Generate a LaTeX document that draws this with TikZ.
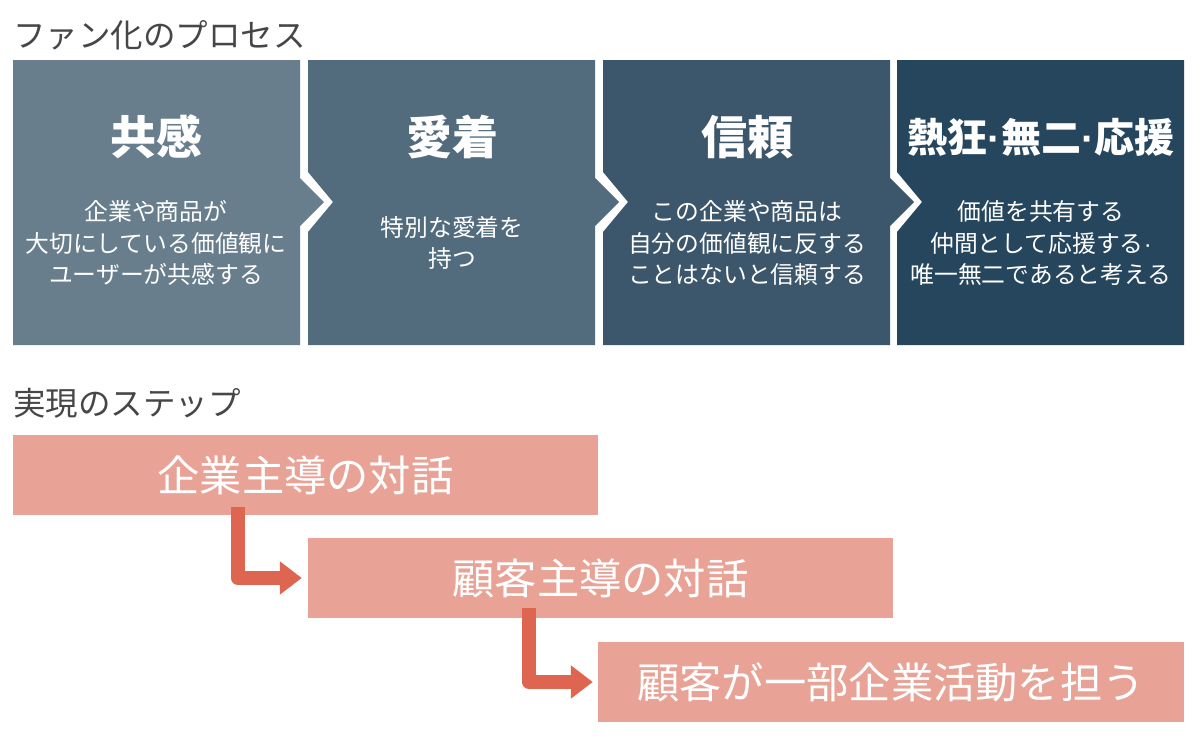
\documentclass[tikz,border=0pt]{standalone}
\usepackage{fontspec}
\newfontfamily\jp{Noto Sans CJK JP}
\newfontfamily\lat{Liberation Sans}
\usepackage{tikz}
\usetikzlibrary{positioning, arrows.meta, calc}
\definecolor{dankaiA}{HTML}{687E8D}
\definecolor{dankaiB}{HTML}{526C7E}
\definecolor{dankaiC}{HTML}{3C576C}
\definecolor{dankaiD}{HTML}{26465E}
\definecolor{momo}{HTML}{E8A396}
\definecolor{aka}{HTML}{DE6651}
\definecolor{hai}{HTML}{464646}
\newcommand{\nakaten}{{\lat\bfseries ·}}

\begin{document}
\begin{tikzpicture}[
    x=1pt, y=-1pt,
    midashi/.style={
        anchor=west, inner sep=0pt, text=hai,
        font=\jp\fontsize{32.5}{38}\selectfont
    },
    daimei/.style={
        inner sep=0pt, text=white,
        font=\jp\bfseries\fontsize{46}{52}\selectfont
    },
    setsumei/.style={
        inner sep=0pt, text=white, align=center,
        font=\jp\fontsize{23.8}{31.5}\selectfont
    },
    suteppu/.style={
        rectangle, fill=momo, text=white, inner sep=0pt,
        minimum width=585pt, minimum height=80pt,
        font=\jp\fontsize{42.3}{48}\selectfont
    },
    yajirushi/.style={
        draw=aka, line width=14pt, line join=round,
        -{Triangle[width=32pt, length=22pt]}
    }
]
\useasboundingbox (0,0) rectangle (1200,742);

% --- fan process
\node[midashi] (proc) at (13,35) {ファン化のプロセス};

\fill[dankaiA] (13,60) -- (300,60) -- (300,178) -- (324,202) -- (300,226)
    -- (300,345) -- (13,345) -- cycle;
\fill[dankaiB] (308,60) -- (595,60) -- (595,178) -- (619,202) -- (595,226)
    -- (595,345) -- (308,345) -- (308,232) -- (333,202) -- (308,172) -- cycle;
\fill[dankaiC] (603,60) -- (890,60) -- (890,178) -- (914,202) -- (890,226)
    -- (890,345) -- (603,345) -- (603,232) -- (628,202) -- (603,172) -- cycle;
\fill[dankaiD] (897,60) -- (1184,60) -- (1184,345) -- (897,345)
    -- (897,232) -- (922,202) -- (897,172) -- cycle;

\node[daimei] (kyokan) at (156,137) {共感};
\node[daimei] (aichaku) at (452,137) {愛着};
\node[daimei] (shinrai) at (747,137) {信頼};
\node[daimei, font=\jp\bfseries\fontsize{40}{50}\selectfont] (nekkyo) at (1041,137) {熱狂\nakaten 無二\nakaten 応援};

\node[setsumei] (kyokanT) at (156,243) {企業や商品が\\大切にしている価値観に\\ユーザーが共感する};
\node[setsumei] (aichakuT) at (452,243) {特別な愛着を\\持つ};
\node[setsumei] (shinraiT) at (747,243) {この企業や商品は\\自分の価値観に反する\\ことはないと信頼する};
\node[setsumei] (nekkyoT) at (1041,243) {価値を共有する\\仲間として応援する{\lat ·}\\唯一無二であると考える};

% --- steps
\node[midashi] (jitsugen) at (13,403) {実現のステップ};

\node[suteppu] (kigyo) at (305.5,475) {企業主導の対話};
\node[suteppu] (kokyaku) at (600.5,578) {顧客主導の対話};
\node[suteppu, minimum width=586pt] (ninau) at (891,682) {顧客が一部企業活動を担う};

\draw[yajirushi] ($(kigyo.south west)+(225,-8)$) |- ($(kokyaku.west)+(-6,0)$);
\draw[yajirushi] ($(kokyaku.south west)+(221,-10)$) |- ($(ninau.west)+(-5,0)$);
\end{tikzpicture}
\end{document}
